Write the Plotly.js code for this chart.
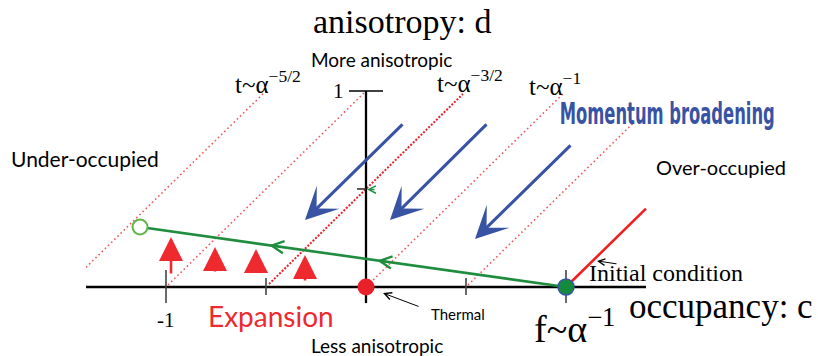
<!DOCTYPE html>
<html><head><meta charset="utf-8">
<script src="https://cdn.plot.ly/plotly-3.0.1.min.js"></script>
<style>html,body{margin:0;padding:0;background:#fff}</style>
</head><body><div id="chart" style="width:818px;height:356px"></div>
<script>
// ---- data (occupancy c, anisotropy d) ----
const scalingStartC = [-1.40, -0.99, -0.485, 0.02, 0.51];
const scalingEndC   = [-0.51, -0.01, 0.485, 0.985, 1.335];
const scalingOffset = [1.5, 1.0, 0.5, 0.0, -0.5];   // d = c + offset
const scalingLabels = ['t~α<sup>−5/2</sup>', 't~α<sup>−3/2</sup>', 't~α<sup>−1</sup>'];
const scalingLabelC = [-0.665, 0.345, 0.805];
const scalingLabelD = [1.045, 1.05, 1.035];

const trajC = [-1.13, 1.0];
const trajD = [0.306, 0.0];
const trajArrowC = [-0.485, 0.055];

const initC = [1.0, 1.4];
const initD = [0.0, 0.4];

const broadTailC = [0.19, 0.61, 1.03];
const broadTailD = [0.837, 0.837, 0.730];
const broadTipC  = [-0.305, 0.12, 0.545];
const broadTipD  = [0.342, 0.342, 0.245];

const expC     = [-0.975, -0.755, -0.55, -0.305];
const expBaseD = [0.061, 0.071, 0.071, 0.026];
const expTipD  = [0.255, 0.204, 0.194, 0.163];

const majorTicksC = [-1, 1];
const minorTicksC = [-0.5, 0.5];
const axisMinC = -1.4, axisMaxC = 1.4, axisMaxD = 1.0, axisMinD = -0.082;

// ---- colours ----
const RED = '#ee2a2e', BLUE = '#3953a4', GREEN = '#1f8c3e', LIGHTRED = '#f0585c';

const traces = [];
for (let i = 0; i < scalingOffset.length; i++) {
  const dense = (i === 2);
  traces.push({
    x: [scalingStartC[i], scalingEndC[i]],
    y: [scalingStartC[i] + scalingOffset[i], scalingEndC[i] + scalingOffset[i]],
    mode: 'lines', hoverinfo: 'skip',
    line: {color: dense ? '#e8222a' : LIGHTRED, width: dense ? 2 : 1.6, dash: dense ? '2px,1.6px' : '1.6px,2.8px'}
  });
}
traces.push({x: [axisMinC, axisMaxC], y: [0, 0], mode: 'lines', line: {color: '#000', width: 2.5}, hoverinfo: 'skip'});
traces.push({x: [0, 0], y: [axisMinD, axisMaxD], mode: 'lines', line: {color: '#000', width: 2.3}, hoverinfo: 'skip'});
traces.push({x: [-0.085, 0.085], y: [1, 1], mode: 'lines', line: {color: '#000', width: 1.6}, hoverinfo: 'skip'});
traces.push({x: [-0.045, 0], y: [0.5, 0.5], mode: 'lines', line: {color: '#333', width: 1.6}, hoverinfo: 'skip'});
const mx = [], my = [];
majorTicksC.forEach(c => { mx.push(c, c, null); my.push(-0.082, 0.087, null); });
minorTicksC.forEach(c => { mx.push(c, c, null); my.push(-0.041, 0.046, null); });
traces.push({x: mx, y: my, mode: 'lines', line: {color: '#444', width: 1.6}, hoverinfo: 'skip'});
traces.push({x: trajC, y: trajD, mode: 'lines', line: {color: GREEN, width: 2.6}, hoverinfo: 'skip'});
traces.push({x: initC, y: initD, mode: 'lines', line: {color: '#ee2020', width: 2.6}, hoverinfo: 'skip'});
traces.push({x: [trajC[0]], y: [trajD[0]], mode: 'markers', marker: {size: 15, color: '#fff', line: {color: '#62b544', width: 2}}, hoverinfo: 'skip'});
traces.push({x: [0], y: [0], mode: 'markers', marker: {size: 17, color: '#e8202a', line: {width: 0}}, hoverinfo: 'skip'});
traces.push({x: [trajC[1]], y: [trajD[1]], mode: 'markers', marker: {size: 16, color: '#138a3e', line: {color: '#3953a4', width: 1.5}}, hoverinfo: 'skip'});

const trajAt = c => trajD[0] + (trajD[1] - trajD[0]) * (c - trajC[0]) / (trajC[1] - trajC[0]);

const ann = [];
const arrow = (x, y, ax, ay, color, width, head, size) => ann.push({
  x, y, ax, ay, xref: 'x', yref: 'y', axref: 'x', ayref: 'y', text: '',
  showarrow: true, arrowhead: head, arrowsize: size, arrowwidth: width, arrowcolor: color, standoff: 0, startstandoff: 0
});
for (let i = 0; i < broadTipC.length; i++) arrow(broadTipC[i], broadTipD[i], broadTailC[i], broadTailD[i], BLUE, 3, 3, 1.8);
for (let i = 0; i < expC.length; i++) arrow(expC[i], expTipD[i], expC[i], expBaseD[i], RED, 2.6, 2, 1.85);
trajArrowC.forEach(c => arrow(c, trajAt(c), c + 0.07, trajAt(c + 0.07), GREEN, 2, 5, 1.2));
arrow(0.005, 0.497, 0.05, 0.497, GREEN, 1.6, 5, 0.9);
arrow(0.085, -0.031, 0.27, -0.102, '#000', 1, 5, 1.4);
arrow(1.155, 0.133, 1.26, 0.117, '#000', 1, 5, 1.3);

const SERIF = 'Liberation Serif, Times New Roman, serif';
const SANS = 'Lato, Open Sans, sans-serif';
const txt = (text, x, y, size, family, color, xanchor, extra) => ann.push(Object.assign({
  text, x, y, xref: 'x', yref: 'y', showarrow: false, xanchor: xanchor || 'center', yanchor: 'middle',
  font: {family, size, color: color || '#000'}
}, extra || {}));

txt('anisotropy: d', 0.18, 1.352, 34, SERIF);
txt('More anisotropic', 0.075, 1.158, 19, SANS);
txt('Less anisotropic', 0.055, -0.296, 19, SANS);
txt('Under-occupied', -1.405, 0.653, 21, SANS);
txt('Over-occupied', 1.775, 0.612, 20, SANS);
ann.push({text: 'Momentum broadening', x: 1.505, y: 0.888, xref: 'x', yref: 'y', showarrow: false,
  xanchor: 'center', yanchor: 'middle', font: {family: 'DejaVu Sans Condensed, DejaVu Sans, sans-serif', size: 31, color: BLUE, weight: 'bold'}});
txt('Initial condition', 1.5, 0.071, 24, SERIF);
txt('occupancy: c', 1.775, -0.097, 35, SERIF);
txt('Expansion', -0.475, -0.148, 28, SANS, RED);
txt('Thermal', 0.46, -0.138, 15, SANS);
txt('-1', -1.0, -0.168, 21, SERIF);
txt('1', -0.14, 1.0, 21, SERIF);
txt('f~α<sup>−1</sup>', 0.83, -0.2, 38, SERIF, '#000', 'left');
for (let i = 0; i < scalingLabels.length; i++) txt(scalingLabels[i], scalingLabelC[i], scalingLabelD[i], 25, SERIF, '#000', 'left');

const layout = {
  width: 818, height: 356, margin: {l: 0, r: 0, t: 0, b: 0},
  paper_bgcolor: '#fff', plot_bgcolor: '#fff', showlegend: false,
  xaxis: {range: [-1.83, 2.26], visible: false, fixedrange: true},
  yaxis: {range: [-0.352, 1.464], visible: false, fixedrange: true},
  annotations: ann
};
Plotly.newPlot('chart', traces, layout, {staticPlot: true, displayModeBar: false}).then(() => {
  // condense the bold "Momentum broadening" label to its original width
  const W = 215;
  document.querySelectorAll('.annotation-text').forEach(t => {
    if (t.textContent === 'Momentum broadening') {
      t.setAttribute('textLength', String(W));
      t.setAttribute('lengthAdjust', 'spacingAndGlyphs');
      const bg = t.parentNode.querySelector('rect.bg');
      if (bg) {
        const x0 = +bg.getAttribute('x') || 0, w0 = +bg.getAttribute('width') || 0;
        bg.setAttribute('x', String(x0 + (w0 - W - 4) / 2));
        bg.setAttribute('width', String(W + 4));
      }
    }
  });
});
</script></body></html>
